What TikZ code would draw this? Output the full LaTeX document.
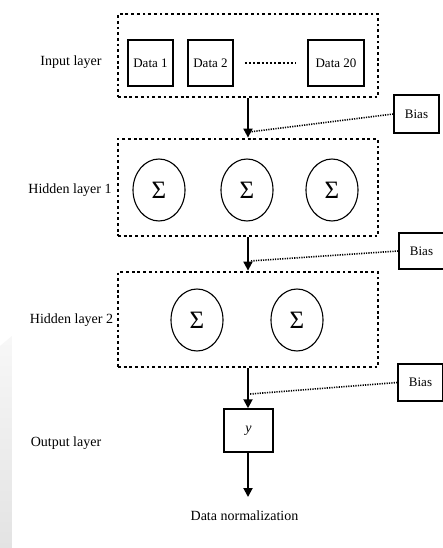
\documentclass[tikz,border=0pt]{standalone}
\usepackage{fontspec}
\setmainfont{Liberation Serif}
\usetikzlibrary{arrows.meta,shapes.geometric,calc}

\begin{document}
\begin{tikzpicture}[x=1pt,y=-1pt,
  layerbox/.style={draw, line width=2.8pt, dash pattern=on 2.8pt off 2.9pt,
    minimum width=260pt, inner sep=0pt},
  databox/.style={draw, line width=1.5pt, minimum height=46pt, inner sep=0pt,
    font=\fontsize{13}{15}\selectfont},
  neuron/.style={draw, ellipse, line width=1.1pt, minimum width=52pt, minimum height=62pt,
    inner sep=0pt, font=\fontsize{25}{27}\selectfont},
  biasbox/.style={draw, line width=1.4pt, minimum width=45pt, inner sep=0pt,
    font=\fontsize{13}{15}\selectfont},
  lbl/.style={inner sep=0pt, font=\fontsize{14}{16}\selectfont},
  flow/.style={line width=1.9pt, -{Triangle[length=9pt,width=9pt]}},
  biasline/.style={line width=1.6pt, dash pattern=on 1.2pt off 1.2pt},
  gapline/.style={line width=1.1pt, dash pattern=on 2.2pt off 2pt}]

  \useasboundingbox (0,0) rectangle (442,548);
  \fill[white] (0,0) rectangle (442,548);

  % faint grey strip along the lower left edge
  \shade[top color=gray!6, bottom color=gray!22]
    (0,346) -- (12,336) -- (12,548) -- (0,548) -- cycle;

  % input layer
  \node[layerbox, minimum height=83pt] (inbox) at (248,55.5) {};
  \node[databox, minimum width=45pt] (d1) at (150.5,63) {Data 1};
  \node[databox, minimum width=45pt] (d2) at (210.5,63) {Data 2};
  \node[databox, minimum width=56pt] (d20) at (336,63) {Data 20};
  \draw[gapline] ([xshift=11pt]d2.east) -- ([xshift=-11pt]d20.west);
  \node[lbl] (inlbl) at (71,62) {Input layer};

  % hidden layer 1
  \node[layerbox, minimum height=97pt] (h1) at (248,187.5) {};
  \node[neuron] (c11) at (159,190) {Σ};
  \node[neuron] (c12) at (247,190) {Σ};
  \node[neuron] (c13) at (332,190) {Σ};
  \node[lbl] (h1lbl) at (70,190) {Hidden layer 1};

  % hidden layer 2
  \node[layerbox, minimum height=95pt] (h2) at (248,319.5) {};
  \node[neuron] (c21) at (197,320) {Σ};
  \node[neuron] (c22) at (297,320) {Σ};
  \node[lbl] (h2lbl) at (71.5,320) {Hidden layer 2};

  % output layer
  \node[draw, line width=1.5pt, minimum width=49pt, minimum height=43pt, inner sep=0pt,
    font=\fontsize{14}{16}\selectfont\itshape] (ybox) at (248.5,430.5) {y};
  \node[lbl] (outlbl) at (66,443) {Output layer};
  \node[lbl] (norm) at (244.5,516) {Data normalization};
  \coordinate (normtop) at (248,497);

  % bias inputs
  \node[biasbox, minimum height=38pt] (b1) at (416.5,114) {Bias};
  \node[biasbox, minimum height=36pt] (b2) at (421.5,251) {Bias};
  \node[biasbox, minimum height=37pt] (b3) at (420.5,382.5) {Bias};
  \coordinate (j1) at (249,132);
  \coordinate (j2) at (250,261);
  \coordinate (j3) at (250,394);

  % forward connections
  \draw[flow] (inbox.south) -- (h1.north);
  \draw[flow] (h1.south) -- (h2.north);
  \draw[flow] (h2.south) -- (h2.south |- ybox.north);
  \draw[flow] (h2.south |- ybox.south) -- (normtop);

  % bias connections
  \draw[biasline] (b1.west) -- (j1);
  \draw[biasline] (b2.west) -- (j2);
  \draw[biasline] (b3.west) -- (j3);
\end{tikzpicture}
\end{document}
